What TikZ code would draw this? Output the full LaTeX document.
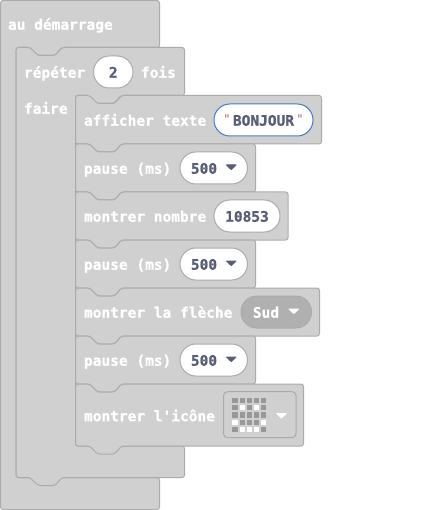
\documentclass[tikz,border=0pt]{standalone}
\usepackage{fontspec}
\setmonofont[BoldFeatures={FakeBold=0.9}]{DejaVu Sans Mono}
\definecolor{blockfill}{HTML}{D0D0D0}
\definecolor{blockline}{HTML}{ABABAB}
\definecolor{fieldtext}{HTML}{575E75}
\definecolor{ledoff}{HTML}{989898}
\definecolor{quotered}{HTML}{C2555F}
\definecolor{pillblue}{HTML}{3D7FC4}
\definecolor{sudfill}{HTML}{B0B0B0}
\tikzset{
  blockshape/.style={draw=blockline,fill=blockfill,line width=1pt,rounded corners=2.5pt,line join=round},
  lbl/.style={anchor=base west,inner sep=0pt,outer sep=0pt,yshift=-0.7pt,text=white,font=\ttfamily\bfseries\fontsize{14.5}{16}\selectfont},
  val/.style={anchor=base,inner sep=0pt,outer sep=0pt,yshift=-0.7pt,text=fieldtext,font=\ttfamily\bfseries\fontsize{14.5}{16}\selectfont},
  pill/.style={draw=blockline,fill=white,line width=1pt,rounded corners=15.9pt},
  tridark/.style={fill=fieldtext,draw=fieldtext,line width=1pt,line join=round},
  triwhite/.style={fill=white,draw=white,line width=1pt,line join=round},
  ledw/.style={fill=white},
  ledg/.style={fill=ledoff}
}
% statement block: left, top, right, bottom
\newcommand\stmtblock[4]{%
  \pgfmathsetmacro\na{#1+14}\pgfmathsetmacro\nb{#1+22}\pgfmathsetmacro\nc{#1+39}\pgfmathsetmacro\nd{#1+46}%
  \pgfmathsetmacro\ty{#2+8}\pgfmathsetmacro\by{#4+8}%
  \draw[blockshape] (#1,#2) -- (\na,#2) -- (\nb,\ty) -- (\nc,\ty) -- (\nd,#2) -- (#3,#2) -- (#3,#4)
    -- (\nd,#4) -- (\nc,\by) -- (\nb,\by) -- (\na,#4) -- (#1,#4) -- cycle;%
}
\newcommand\drop[3]{%
  \pgfmathsetmacro\dl{#1+0.5}\pgfmathsetmacro\dr{#1+10}\pgfmathsetmacro\dm{#1+5.25}\pgfmathsetmacro\db{#2+4.5}%
  \fill[#3] (\dl,#2) -- (\dr,#2) -- (\dm,\db) -- cycle;%
}
\newcommand\leds[1]{%
  \foreach \r/\c/\s in {#1}{%
    \pgfmathsetmacro\lx{232.4+7.2*\c}\pgfmathsetmacro\ly{397.9+7.2*\r}%
    \pgfmathsetmacro\lxb{\lx+5.2}\pgfmathsetmacro\lyb{\ly+5.2}%
    \path[\s] (\lx,\ly) rectangle (\lxb,\lyb);%
  }%
}
\begin{document}
\begin{tikzpicture}[x=1pt,y=-1pt]
\useasboundingbox (0,0) rectangle (425,510);
% hat block
\draw[blockshape] (0.5,0.5) -- (159.5,0.5) -- (159.5,47.5) -- (62,47.5) -- (55,55.5) -- (38,55.5) -- (30,47.5) -- (16,47.5) -- (16,477.5) -- (159.5,477.5) -- (159.5,509.5) -- (0.5,509.5) -- cycle;
\node[lbl] (hat) at (8,29) {au démarrage};
% repeat block
\draw[blockshape] (16,47.5) -- (30,47.5) -- (38,55.5) -- (55,55.5) -- (62,47.5) -- (184.5,47.5) -- (184.5,95.5)
  -- (121,95.5) -- (114,103.5) -- (97,103.5) -- (89,95.5) -- (75.5,95.5) -- (75.5,446) -- (184.5,446) -- (184.5,477.5)
  -- (62,477.5) -- (55,485.5) -- (38,485.5) -- (30,477.5) -- (16,477.5) -- cycle;
\node[lbl] (rep) at (24,77) {répéter};
\node[lbl] (fois) at (141,77) {fois};
\node[lbl] (faire) at (24,113) {faire};
\draw[pill] (93.5,56) rectangle (133,88);
\node[val] (two) at (113.3,77) {2};
% statements
\stmtblock{75.5}{95.5}{321.5}{144}
\node[lbl] (txt) at (84,125) {afficher texte};
\stmtblock{75.5}{144}{255.5}{192}
\node[lbl] (p1) at (84,173) {pause (ms)};
\stmtblock{75.5}{192}{288}{240}
\node[lbl] (nb) at (84,221) {montrer nombre};
\stmtblock{75.5}{240}{255.5}{288}
\node[lbl] (p2) at (84,269) {pause (ms)};
\stmtblock{75.5}{288}{319.5}{336}
\node[lbl] (fl) at (84,317) {montrer la flèche};
\stmtblock{75.5}{336}{255.5}{384}
\node[lbl] (p3) at (84,365) {pause (ms)};
\stmtblock{75.5}{384}{303.5}{446}
\node[lbl] (ic) at (84,420.5) {montrer l'icône};
% fields
\draw[pill,draw=pillblue] (214,104) rectangle (313,136);
\node[val] (bj) at (263.5,125) {BONJOUR};
\node[anchor=base,inner sep=0pt,text=quotered,font=\ttfamily\fontsize{12}{14}\selectfont] (q1) at (227,123.5) {"};
\node[anchor=base,inner sep=0pt,text=quotered,font=\ttfamily\fontsize{12}{14}\selectfont] (q2) at (300,123.5) {"};
\foreach \py/\nm in {152/a,248/b,344/c}{
  \draw[pill] (180,\py) rectangle (247.5,\py+32);
  \node[val] (v\nm) at (204,\py+21) {500};
  \drop{226}{\py+13}{tridark}
}
\draw[pill] (214,200) rectangle (280,232);
\node[val] (num) at (247,221) {10853};
\draw[pill,fill=sudfill] (241,296) rectangle (311.5,328);
\node[lbl,anchor=base] (sud) at (266,317) {Sud};
\drop{288.5}{309}{triwhite}
% icon field
\draw[draw=blockline,line width=1pt,rounded corners=4pt] (223.5,391.7) rectangle (296,437.7);
\leds{0/0/ledg,0/1/ledg,0/2/ledg,0/3/ledg,0/4/ledg,
        1/0/ledg,1/1/ledw,1/2/ledg,1/3/ledw,1/4/ledg,
        2/0/ledg,2/1/ledg,2/2/ledg,2/3/ledg,2/4/ledg,
        3/0/ledw,3/1/ledg,3/2/ledg,3/3/ledg,3/4/ledw,
        4/0/ledg,4/1/ledw,4/2/ledw,4/3/ledw,4/4/ledg}
\drop{276.2}{413.5}{triwhite}
\end{tikzpicture}
\end{document}
